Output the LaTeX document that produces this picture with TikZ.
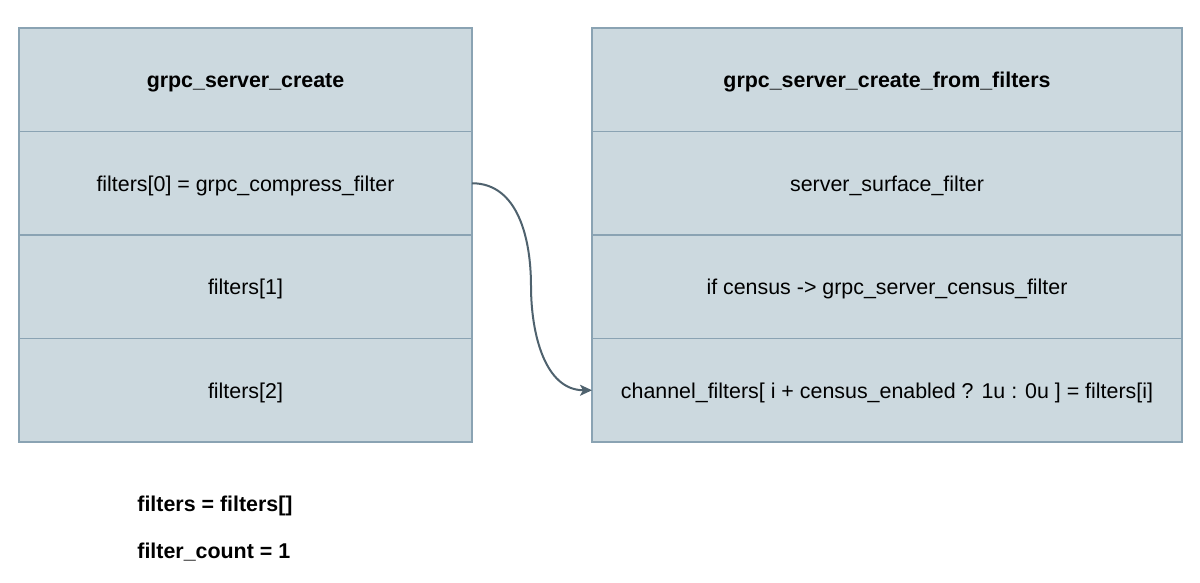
\documentclass[tikz,border=0pt]{standalone}
\usepackage{fontspec}
\setmainfont{Liberation Sans}
\usetikzlibrary{arrows.meta,positioning}
\definecolor{cellfill}{RGB}{204,217,223}
\definecolor{cellline}{RGB}{138,163,179}
\definecolor{linkline}{RGB}{79,98,110}
\begin{document}
\begin{tikzpicture}[x=0.5pt,y=-0.5pt,node distance=0pt,
    cell/.style={draw=cellline,fill=cellfill,line width=0.75pt,outer sep=0pt,inner sep=0pt,
      minimum height=51.75pt,text height=9.5pt,text depth=1.7pt,font=\fontsize{10.7}{13}\selectfont},
    leftcell/.style={cell,minimum width=226.5pt},
    rightcell/.style={cell,minimum width=295pt},
    note/.style={anchor=west,inner sep=0pt,font=\fontsize{10.7}{13}\selectfont\bfseries}]
  \useasboundingbox (0,0) rectangle (1200,583);
  % grpc_server_create
  \node[leftcell] (create) at (245.5,79.75) {\textbf{grpc\_server\_create}};
  \node[leftcell,below=of create] (f0) {filters[0] = grpc\_compress\_filter};
  \node[leftcell,below=of f0] (f1) {filters[1]};
  \node[leftcell,below=of f1] (f2) {filters[2]};
  % grpc_server_create_from_filters
  \node[rightcell] (fromf) at (887,79.75) {\textbf{grpc\_server\_create\_from\_filters}};
  \node[rightcell,below=of fromf] (surface) {server\_surface\_filter};
  \node[rightcell,below=of surface] (census) {if census -> grpc\_server\_census\_filter};
  \node[rightcell,below=of census] (chan) {channel\_filters[ i + census\_enabled ? 1u : 0u ] = filters[i]};
  % notes
  \node[note] (filters) at (137,505.5) {filters = filters[]};
  \node[note] (count) at (137,552) {filter\_count = 1};
  % link
  \coordinate (bend) at (531,286);
  \draw[linkline,line width=1pt,-{Stealth[length=6pt,width=5.5pt,inset=1.5pt]}]
    (f0.east) to[out=0,in=90] (bend) to[out=-90,in=180] (chan.west);
\end{tikzpicture}
\end{document}
